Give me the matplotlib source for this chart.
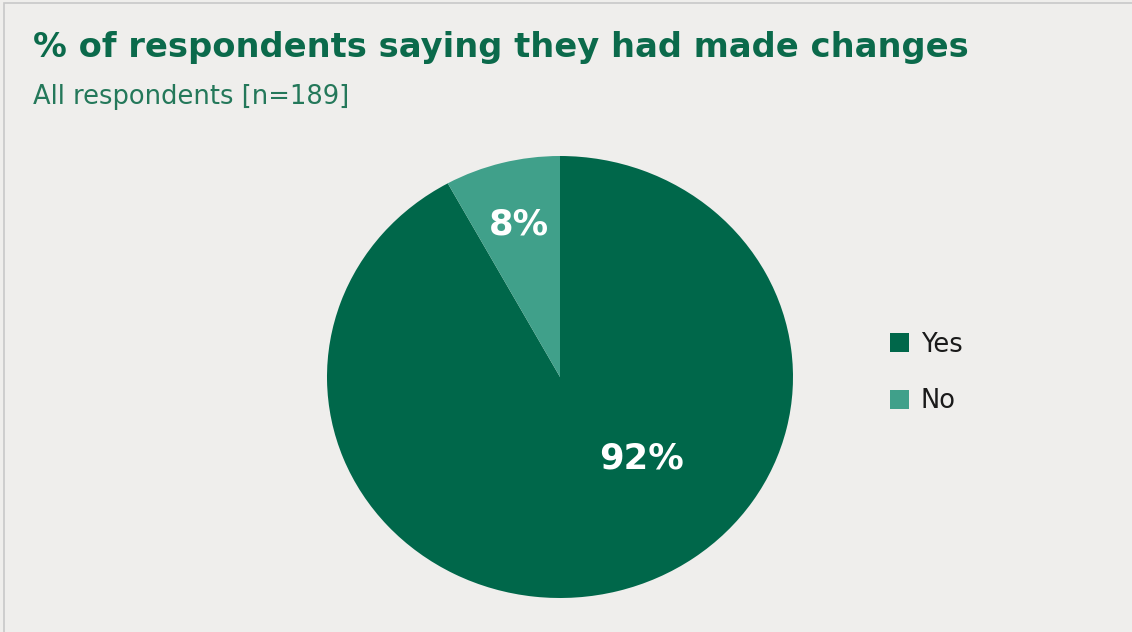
import matplotlib.pyplot as plt
from matplotlib.patches import Rectangle, Patch

# share of respondents who had made changes
labels = ['Yes', 'No']
shares = [92, 8]
colors = ['#00674A', '#40A08A']

title = '% of respondents saying they had made changes'
subtitle = 'All respondents [n=189]'

bg = '#EFEEEC'
green = '#0B6A4B'

fig = plt.figure(figsize=(11.32, 6.32), dpi=100)
fig.patch.set_facecolor(bg)

# thin frame round the chart
fig.add_artist(Rectangle((4 / 1132, -0.01), 1.1, 1 - 3 / 632 + 0.01,
                         transform=fig.transFigure, fill=False,
                         edgecolor='#C8C8C8', linewidth=1.2))

fig.text(33 / 1132, 1 - 48 / 632, title, fontsize=24.3, fontweight='bold',
         color=green, va='center', ha='left')
fig.text(33 / 1132, 1 - 97 / 632, subtitle, fontsize=18.5,
         color='#24785A', va='center', ha='left')

ax = fig.add_axes([327 / 1132, 34 / 632, 466 / 1132, 442 / 632])
ax.set_facecolor(bg)
wedges, _ = ax.pie(shares, colors=colors, startangle=90, counterclock=False,
                   radius=1, wedgeprops=dict(linewidth=0))
ax.set_aspect('auto')
ax.set_xlim(-1, 1)
ax.set_ylim(-1, 1)
ax.axis('off')

# value labels
label_pos = [(0.35, -0.37), (-0.176, 0.69)]
for (x, y), v in zip(label_pos, shares):
    ax.text(x, y, f'{v}%', ha='center', va='center', color='white',
            fontsize=25.5, fontweight='bold')

handles = [Patch(facecolor=c, edgecolor='none') for c in colors]
fig.legend(handles, labels, loc='center left',
           bbox_to_anchor=(867 / 1132, 1 - 373 / 632), frameon=False,
           fontsize=18.5, handlelength=0.75, handleheight=0.75,
           handletextpad=0.45, labelspacing=1.2, labelcolor='#1A1A1A')

fig.savefig('out.png', dpi=100, facecolor=bg)
